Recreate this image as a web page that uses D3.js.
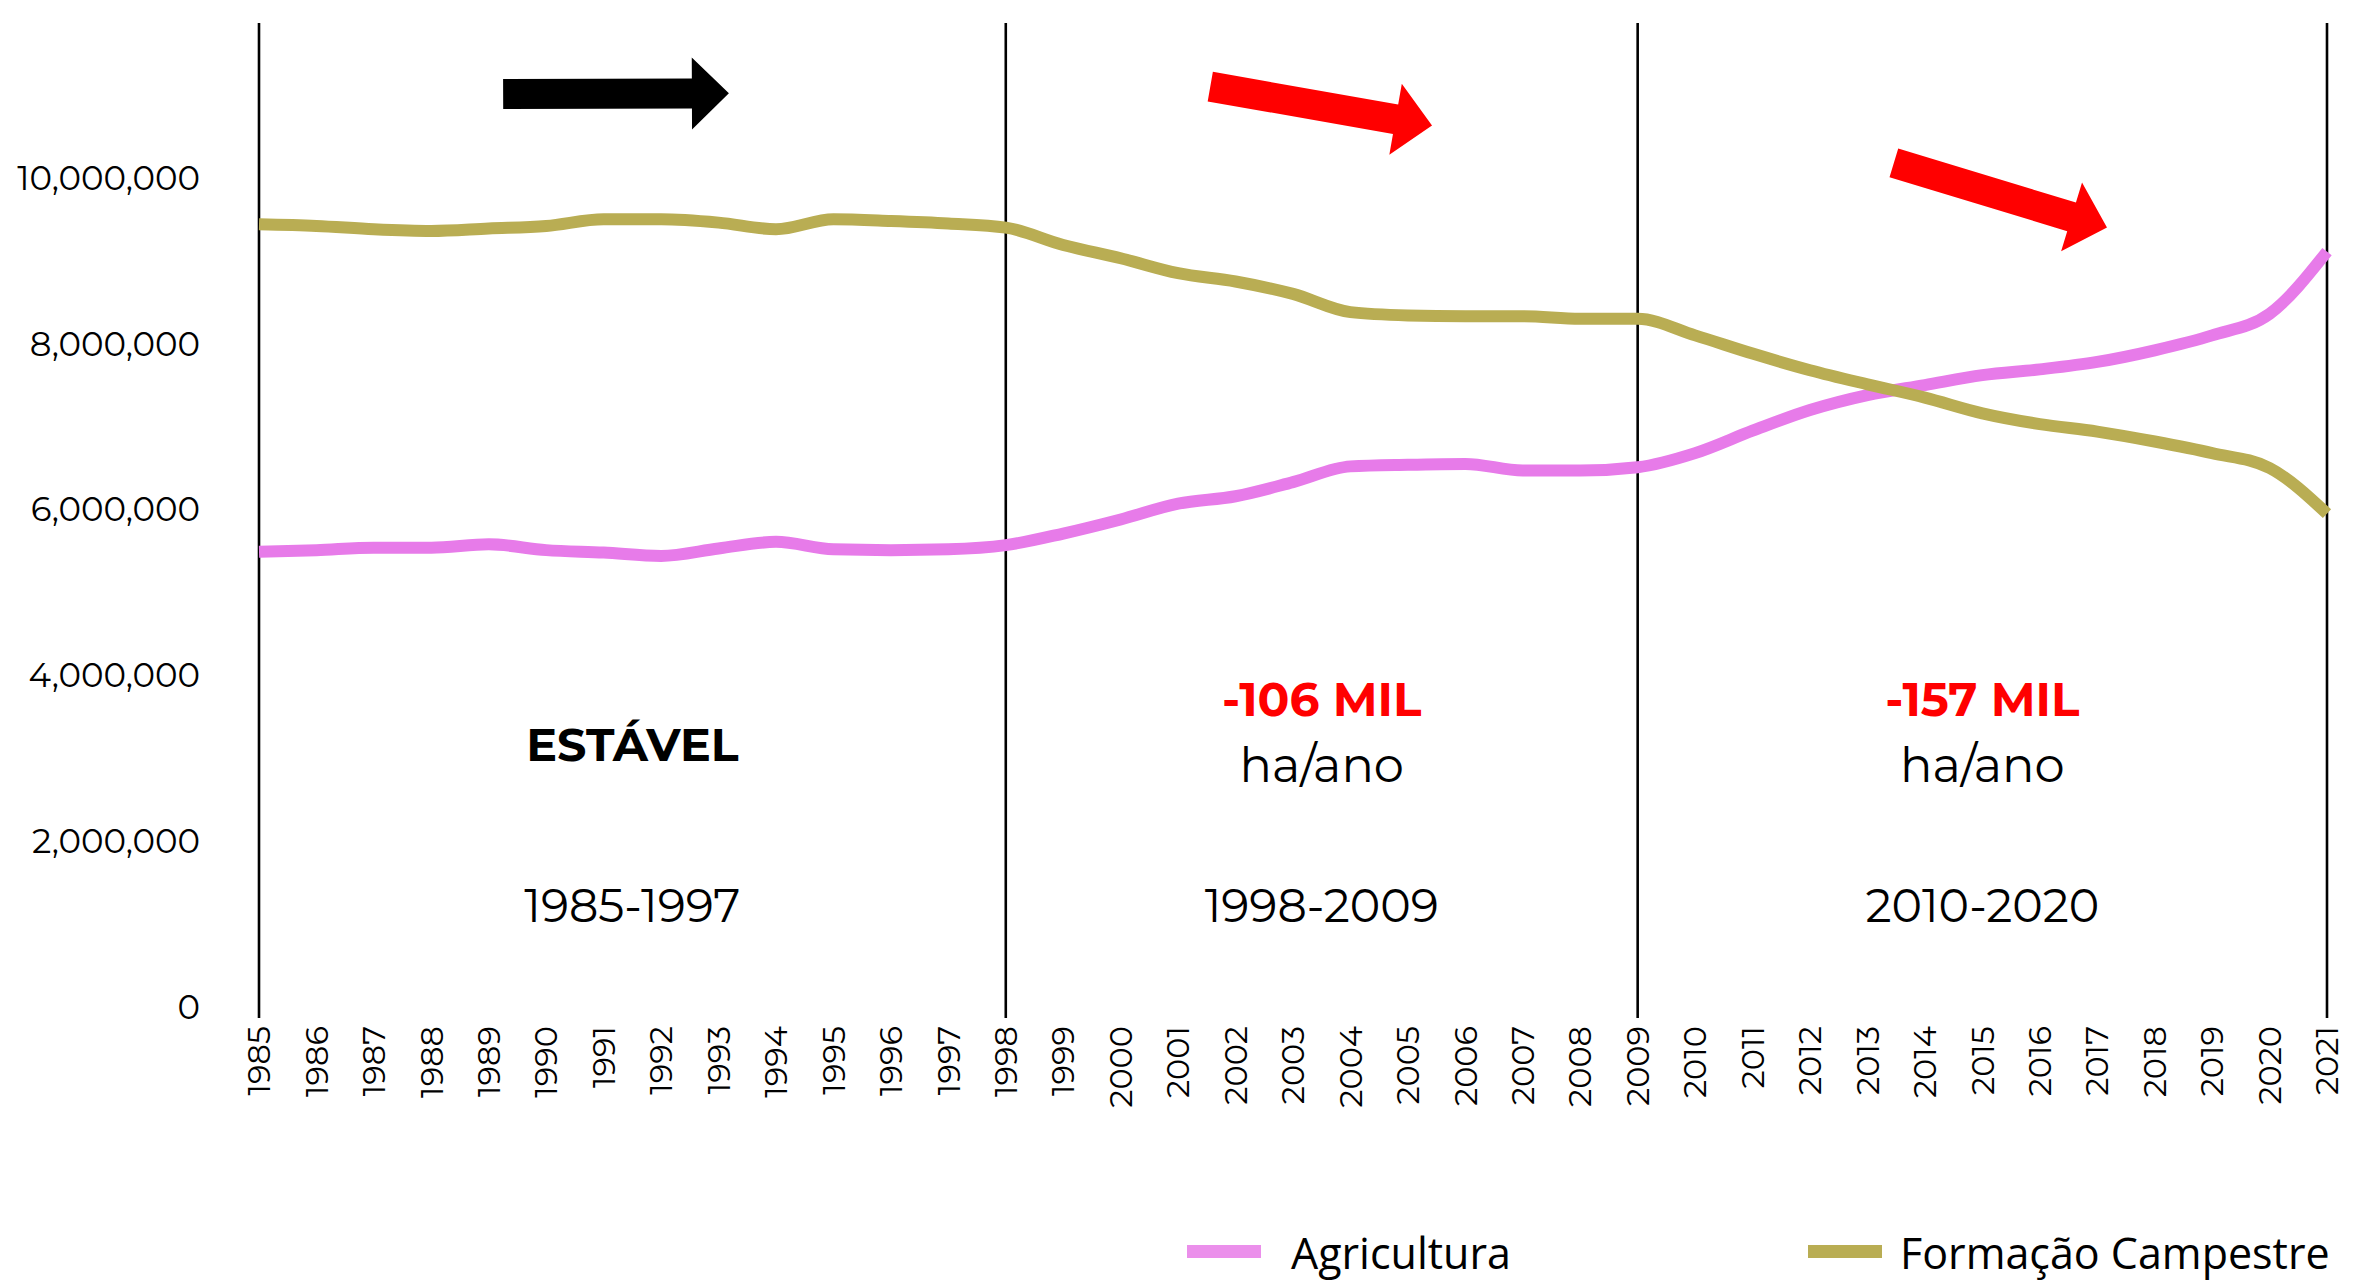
<!DOCTYPE html>
<html>
<head>
<meta charset="utf-8">
<script src="https://cdn.jsdelivr.net/npm/d3@7"></script>
<style>
  html, body { margin: 0; padding: 0; background: #fff; }
  svg { display: block; font-family: Montserrat, 'Open Sans', sans-serif; }
</style>
</head>
<body>
<div id="chart"></div>
<script>
// area (ha) per year
const years = d3.range(1985, 2022)

const agricultura = [
  5.49, 5.51, 5.54, 5.54, 5.58, 5.51, 5.48, 5.44, 5.53, 5.61,
  5.52, 5.51, 5.52, 5.57, 5.71, 5.88, 6.07, 6.16, 6.33, 6.52,
  6.54, 6.55, 6.47, 6.47, 6.51, 6.68, 6.95, 7.20, 7.38, 7.50,
  7.62, 7.69, 7.78, 7.92, 8.10, 8.36, 9.11
].map(v => v * 1e6)

const formacaoCampestre = [
  9.44, 9.42, 9.38, 9.36, 9.39, 9.42, 9.50, 9.50, 9.46, 9.38,
  9.50, 9.48, 9.45, 9.40, 9.19, 9.03, 8.85, 8.75, 8.60, 8.38,
  8.34, 8.33, 8.33, 8.30, 8.30, 8.10, 7.88, 7.68, 7.51, 7.35,
  7.16, 7.03, 6.94, 6.82, 6.68, 6.50, 5.95
].map(v => v * 1e6)

const yTicks = [0, 2e6, 4e6, 6e6, 8e6, 10e6]
const dividers = [1985, 1998, 2009, 2021]

const periods = [
  { label: '1985-1997', rate: null, status: 'ESTÁVEL' },
  { label: '1998-2009', rate: '-106 MIL', status: null },
  { label: '2010-2020', rate: '-157 MIL', status: null }
]

// trend arrows, [year, value] tail -> tip
const arrows = [
  { from: [1989.25, 11.01e6], to: [1993.18, 11.02e6], color: '#000000' },
  { from: [2001.56, 11.10e6], to: [2005.42, 10.63e6], color: '#ff0000' },
  { from: [2013.46, 10.18e6], to: [2017.17, 9.40e6], color: '#ff0000' }
]

const series = [
  { name: 'Agricultura', values: agricultura, color: '#e77be9', swatch: '#eb8feb' },
  { name: 'Formação Campestre', values: formacaoCampestre, color: '#b9ad53', swatch: '#b9ad53' }
]

const width = 2360
const height = 1281

const svg = d3.select('#chart')
  .append('svg')
  .attr('width', width)
  .attr('height', height)

const x = d3.scaleLinear().domain([1985, 2021]).range([259, 2327])
const y = d3.scaleLinear().domain([0, 12e6]).range([1007, 12])

// y axis labels only, no line
svg.append('g')
  .selectAll('text')
  .data(yTicks)
  .join('text')
  .attr('x', 200)
  .attr('y', d => y(d))
  .attr('dy', '0.35em')
  .attr('text-anchor', 'end')
  .attr('font-size', 34)
  .attr('fill', '#000')
  .text(d => d3.format(',')(d))

// x axis year labels, rotated
svg.append('g')
  .selectAll('text')
  .data(years)
  .join('text')
  .attr('transform', d => `translate(${x(d)},1026) rotate(-90)`)
  .attr('dy', '0.35em')
  .attr('text-anchor', 'end')
  .attr('font-size', 32)
  .attr('fill', '#000')
  .text(d => d)

// period dividers
svg.append('g')
  .selectAll('line')
  .data(dividers)
  .join('line')
  .attr('x1', d => x(d))
  .attr('x2', d => x(d))
  .attr('y1', 23)
  .attr('y2', 1018)
  .attr('stroke', '#000')
  .attr('stroke-width', 2.6)

// series lines
const line = d3.line()
  .x((d, i) => x(years[i]))
  .y(d => y(d))
  .curve(d3.curveMonotoneX)

svg.append('g')
  .selectAll('path')
  .data(series)
  .join('path')
  .attr('d', d => line(d.values))
  .attr('fill', 'none')
  .attr('stroke', d => d.color)
  .attr('stroke-width', 12)
  .attr('stroke-linejoin', 'round')

// arrows
function arrowPoints(a) {
  const x0 = x(a.from[0]), y0 = y(a.from[1])
  const x1 = x(a.to[0]), y1 = y(a.to[1])
  const len = Math.hypot(x1 - x0, y1 - y0)
  const ux = (x1 - x0) / len, uy = (y1 - y0) / len
  const nx = -uy, ny = ux
  const shaft = 15, head = 36, headLen = 37
  const bx = x1 - ux * headLen, by = y1 - uy * headLen
  return [
    [x0 + nx * shaft, y0 + ny * shaft],
    [bx + nx * shaft, by + ny * shaft],
    [bx + nx * head, by + ny * head],
    [x1, y1],
    [bx - nx * head, by - ny * head],
    [bx - nx * shaft, by - ny * shaft],
    [x0 - nx * shaft, y0 - ny * shaft]
  ]
}

svg.append('g')
  .selectAll('polygon')
  .data(arrows)
  .join('polygon')
  .attr('points', d => arrowPoints(d).map(p => p.join(',')).join(' '))
  .attr('fill', d => d.color)

// period annotations, centred between dividers
const pg = svg.append('g')
  .selectAll('g')
  .data(periods)
  .join('g')
  .attr('transform', (d, i) => `translate(${(x(dividers[i]) + x(dividers[i + 1])) / 2},0)`)

pg.append('text')
  .attr('y', 922)
  .attr('text-anchor', 'middle')
  .attr('font-size', 46)
  .attr('fill', '#000')
  .text(d => d.label)

pg.filter(d => d.status)
  .append('text')
  .attr('y', 761)
  .attr('text-anchor', 'middle')
  .attr('font-size', 46)
  .attr('font-weight', 'bold')
  .attr('fill', '#000')
  .text(d => d.status)

pg.filter(d => d.rate)
  .append('text')
  .attr('y', 716)
  .attr('text-anchor', 'middle')
  .attr('font-size', 47)
  .attr('font-weight', 'bold')
  .attr('fill', '#ff0000')
  .text(d => d.rate)

pg.filter(d => d.rate)
  .append('text')
  .attr('y', 782)
  .attr('text-anchor', 'middle')
  .attr('font-size', 48)
  .attr('fill', '#000')
  .text('ha/ano')

// legend
const legendX = [1187, 1808]
const legendGap = [104, 92]
const lg = svg.append('g')
  .selectAll('g')
  .data(series)
  .join('g')
  .attr('transform', (d, i) => `translate(${legendX[i]},1252)`)

lg.append('rect')
  .attr('x', 0)
  .attr('y', -7)
  .attr('width', 74)
  .attr('height', 13)
  .attr('fill', d => d.swatch)

lg.append('text')
  .attr('x', (d, i) => legendGap[i])
  .attr('y', 17)
  .attr('font-family', "'Open Sans', sans-serif")
  .attr('font-size', 43)
  .attr('fill', '#000')
  .text(d => d.name)
</script>
</body>
</html>
